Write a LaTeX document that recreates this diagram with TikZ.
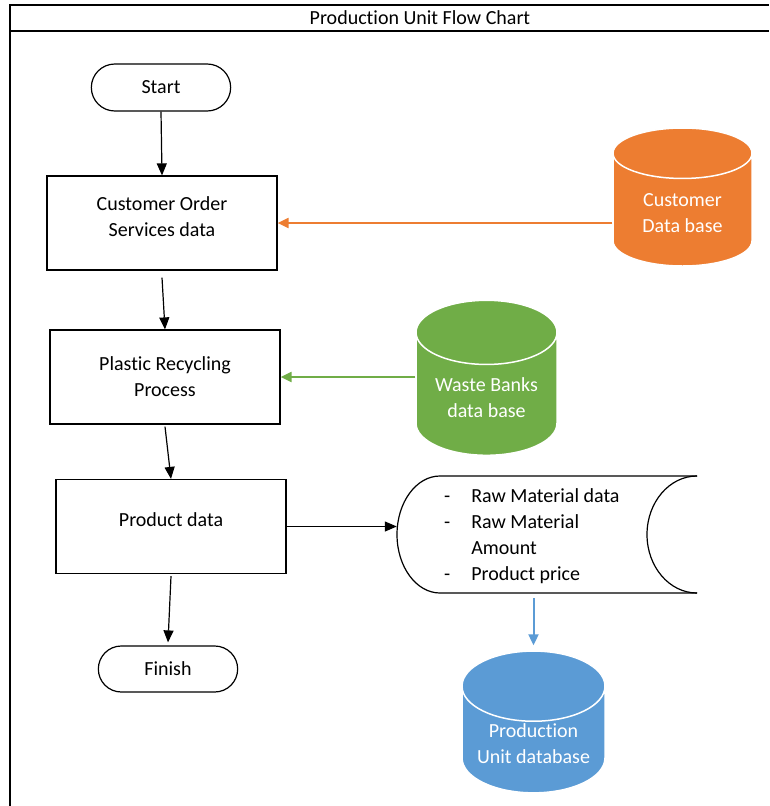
\documentclass[tikz,border=0pt]{standalone}
\usepackage{fontspec}
\setmainfont{Carlito}[Ligatures=NoCommon]
\usetikzlibrary{arrows.meta,shapes.geometric,shapes.misc}
\definecolor{DbOrange}{HTML}{ED7D31}
\definecolor{DbGreen}{HTML}{70AD47}
\definecolor{DbBlue}{HTML}{5B9BD5}
% extra depth under the last line, lifts the text in its box
\newcommand{\dropbase}{\rule[-13pt]{0pt}{13pt}}

\begin{document}
\begin{tikzpicture}[
	x=1pt, y=-1pt,
	font=\fontsize{20}{26}\selectfont,
	process/.style={
		rectangle,
		draw=black,
		line width=1.2pt,
		minimum width=230pt,
		minimum height=94pt,
		align=center
	},
	terminal/.style={
		rounded rectangle,
		draw=black,
		line width=1.2pt,
		minimum width=146pt,
		minimum height=47pt
	},
	database/.style={
		cylinder,
		shape border rotate=90,
		aspect=0.6,
		draw=white,
		line width=1.5pt,
		text=white,
		align=center,
		inner sep=2pt
	},
	% Arrow styles
	flow/.style={
		-{Triangle[length=12pt,width=10pt]},
		line width=1.2pt
	},
	feed/.style={
		-{Triangle[length=11pt,width=10pt]},
		line width=2pt
	}
	]
	\useasboundingbox (0,0) rectangle (769,806);
	
	% ================= FRAME =================
	\draw[line width=1.3pt] (10,806) -- (10,5) -- (769,5);
	\draw[line width=1.3pt] (10,31) -- (769,31);
	\node (title) at (420,18) {Production Unit Flow Chart};
	
	% ================= NODES =================
	\node[terminal] (start) at (161,87.5) {Start};
	\node[process] (cust) at (162,223) {Customer Order\\Services data\dropbase};
	\node[process] (plast) at (165,377) {Plastic Recycling\\Process};
	\node[process] (prod) at (171,526.5) {Product data\dropbase};
	\node[terminal, minimum height=46pt] (finish) at (168,669) {Finish};
	
	\node[database, fill=DbOrange, minimum width=139pt, minimum height=138pt] (cdb) at (682.5,213) {Customer\\Data base};
	\node[database, fill=DbGreen, minimum width=141pt, minimum height=155pt] (wdb) at (486.5,398) {Waste Banks\\data base};
	\node[database, fill=DbBlue, minimum width=143pt, minimum height=140pt] (pdb) at (533.5,744) {Production\\Unit database};
	
	% stored data
	\node[minimum width=300pt, minimum height=117pt] (store) at (547,534.5) {};
	\begin{scope}[shift={(store.center)}, line width=1.2pt]
		\draw (150,-58.5) -- (-107,-58.5)
			.. controls (-130.7,-58.5) and (-150,-32.3) .. (-150,0)
			.. controls (-150,32.3) and (-130.7,58.5) .. (-107,58.5) -- (150,58.5);
		\draw (150,-58.5) .. controls (122.4,-58.5) and (100,-32.3) .. (100,0)
			.. controls (100,32.3) and (122.4,58.5) .. (150,58.5);
	\end{scope}
	\node[anchor=west, inner sep=0pt] (storelist) at (444,536.5) {%
		\begin{tabular}{@{}l@{\hspace{21pt}}l@{}}
			- & Raw Material data\\
			- & Raw Material\\
			  & Amount\\
			- & Product price
		\end{tabular}};
	
	% ================= EDGES =================
	\draw[flow] (start.south) -- (cust.north);
	\draw[flow] ([yshift=-7pt]cust.south) -- (plast.north);
	\draw[flow] ([yshift=-2pt]plast.south) -- (prod.north);
	\draw[flow] ([yshift=-2pt]prod.south) -- ([yshift=3pt]finish.north);
	\draw[flow] (prod.east) -- (prod.east -| store.west);
	
	\draw[feed, DbOrange] (cdb.west |- cust.east) -- (cust.east);
	\draw[feed, DbGreen] (wdb.west |- plast.east) -- (plast.east);
	\draw[feed, DbBlue, shorten <=5pt, shorten >=5pt] (pdb.north |- store.south) -- (pdb.north);
	
\end{tikzpicture}
\end{document}
